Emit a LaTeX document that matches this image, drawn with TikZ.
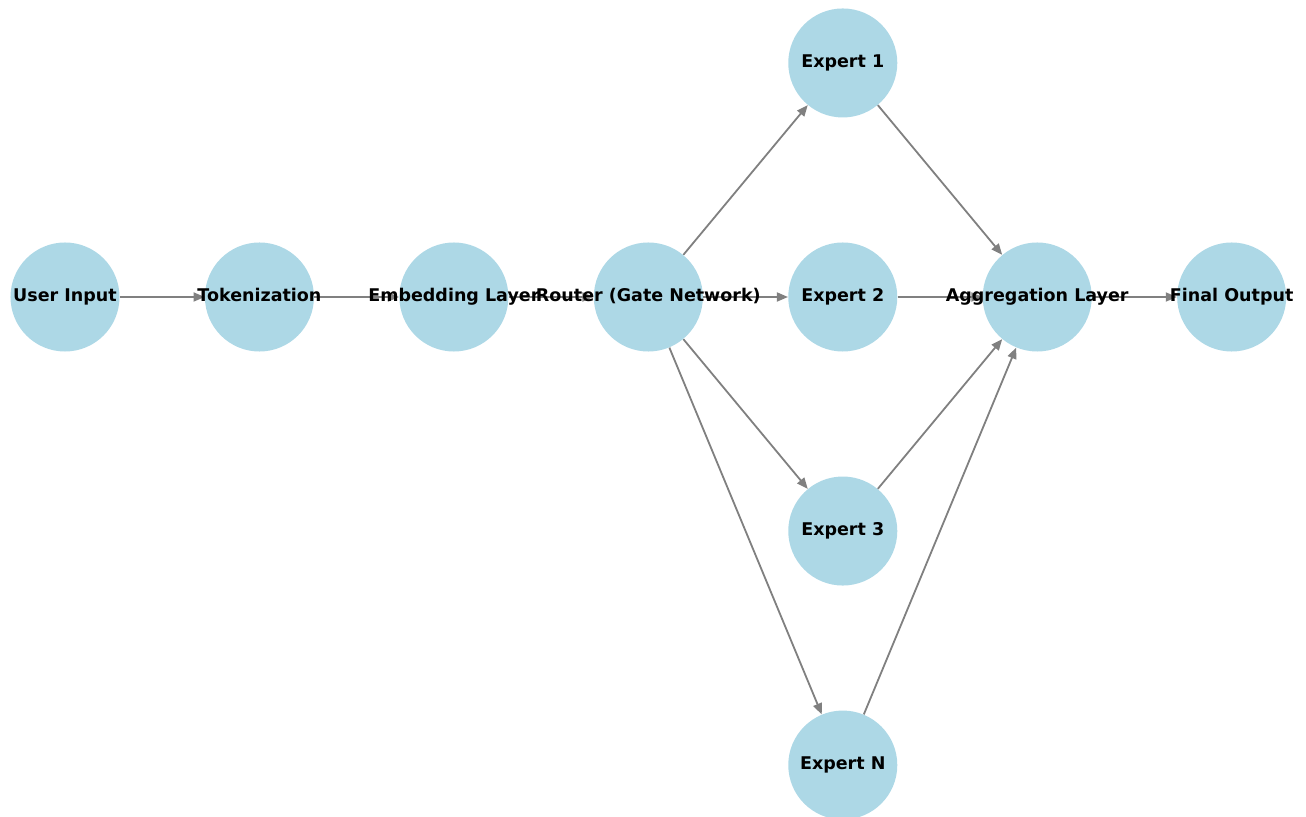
\documentclass[tikz,border=0pt]{standalone}
\usepackage{fontspec}
\setmainfont{DejaVu Sans}
\usetikzlibrary{arrows.meta, backgrounds}
\definecolor{nodeblue}{HTML}{ADD8E6}
\definecolor{edgegray}{HTML}{808080}
\newcommand{\lbl}[1]{\makebox[0pt]{#1}}
\tikzstyle{layer} = [circle, minimum size=78.5pt, inner sep=0pt, fill=nodeblue, text height=9pt, text depth=2.8pt, font=\fontsize{12.6}{15}\selectfont\bfseries]
\tikzstyle{arrow} = [line width=1.3pt, draw=edgegray, -{Triangle[length=8pt, width=6.5pt]}]

\begin{document}
\begin{tikzpicture}[node distance=140pt]

    \useasboundingbox (-46.8pt, 213.84pt) rectangle (893.52pt, -374.4pt);

    \node (input)   [layer]                                         {\lbl{User Input}};
    \node (token)   [layer, right of=input]                         {\lbl{Tokenization}};
    \node (embed)   [layer, right of=token]                         {\lbl{Embedding Layer}};
    \node (router)  [layer, right of=embed]                         {\lbl{Router (Gate Network)}};
    \node (expert2) [layer, right of=router]                        {\lbl{Expert 2}};
    \node (expert1) [layer, above of=expert2, node distance=168.5pt] {\lbl{Expert 1}};
    \node (expert3) [layer, below of=expert2, node distance=168.5pt] {\lbl{Expert 3}};
    \node (expertn) [layer, below of=expert3, node distance=168.5pt] {\lbl{Expert N}};
    \node (aggr)    [layer, right of=expert2]                       {\lbl{Aggregation Layer}};
    \node (output)  [layer, right of=aggr]                          {\lbl{Final Output}};

    \begin{scope}[on background layer]
        \draw [arrow] (input)   -- (token);
        \draw [arrow] (token)   -- (embed);
        \draw [arrow] (embed)   -- (router);
        \draw [arrow] (router)  -- (expert1);
        \draw [arrow] (router)  -- (expert2);
        \draw [arrow] (router)  -- (expert3);
        \draw [arrow] (router)  -- (expertn);
        \draw [arrow] (expert1) -- (aggr);
        \draw [arrow] (expert2) -- (aggr);
        \draw [arrow] (expert3) -- (aggr);
        \draw [arrow] (expertn) -- (aggr);
        \draw [arrow] (aggr)    -- (output);
    \end{scope}

\end{tikzpicture}
\end{document}
